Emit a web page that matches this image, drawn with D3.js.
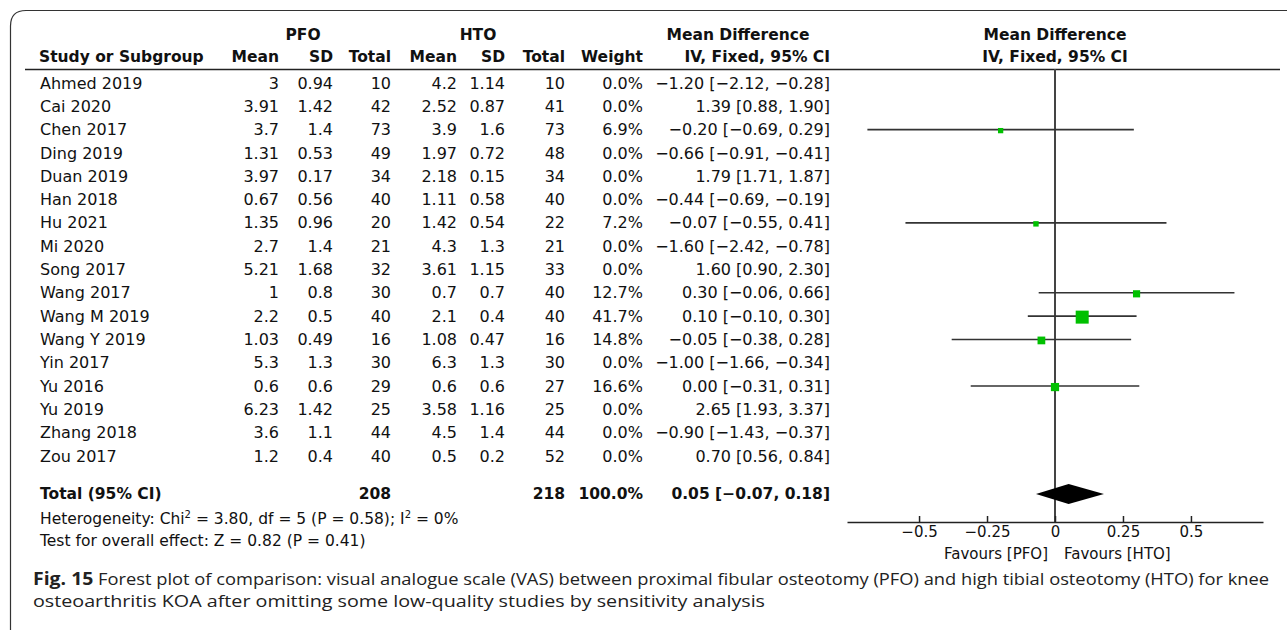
<!DOCTYPE html>
<html>
<head>
<meta charset="utf-8">
<script src="https://cdn.jsdelivr.net/npm/d3@7"></script>
<style>
  body { margin: 0; background: #fff; }
  text { font-family: "DejaVu Sans", sans-serif; fill: #111; }
</style>
</head>
<body>
<script>
var width = 1287,
    height = 630;

var studies = ["Ahmed 2019", "Cai 2020", "Chen 2017", "Ding 2019", "Duan 2019", "Han 2018",
    "Hu 2021", "Mi 2020", "Song 2017", "Wang 2017", "Wang M 2019", "Wang Y 2019",
    "Yin 2017", "Yu 2016", "Yu 2019", "Zhang 2018", "Zou 2017"];
var pfoMean = [3, 3.91, 3.7, 1.31, 3.97, 0.67, 1.35, 2.7, 5.21, 1, 2.2, 1.03, 5.3, 0.6, 6.23, 3.6, 1.2];
var pfoSD = [0.94, 1.42, 1.4, 0.53, 0.17, 0.56, 0.96, 1.4, 1.68, 0.8, 0.5, 0.49, 1.3, 0.6, 1.42, 1.1, 0.4];
var pfoN = [10, 42, 73, 49, 34, 40, 20, 21, 32, 30, 40, 16, 30, 29, 25, 44, 40];
var htoMean = [4.2, 2.52, 3.9, 1.97, 2.18, 1.11, 1.42, 4.3, 3.61, 0.7, 2.1, 1.08, 6.3, 0.6, 3.58, 4.5, 0.5];
var htoSD = [1.14, 0.87, 1.6, 0.72, 0.15, 0.58, 0.54, 1.3, 1.15, 0.7, 0.4, 0.47, 1.3, 0.6, 1.16, 1.4, 0.2];
var htoN = [10, 41, 73, 48, 34, 40, 22, 21, 33, 40, 40, 16, 30, 27, 25, 44, 52];
var weight = [0, 0, 6.9, 0, 0, 0, 7.2, 0, 0, 12.7, 41.7, 14.8, 0, 16.6, 0, 0, 0];
var md = [-1.20, 1.39, -0.20, -0.66, 1.79, -0.44, -0.07, -1.60, 1.60, 0.30, 0.10, -0.05, -1.00, 0.00, 2.65, -0.90, 0.70];
var ciLow = [-2.12, 0.88, -0.69, -0.91, 1.71, -0.69, -0.55, -2.42, 0.90, -0.06, -0.10, -0.38, -1.66, -0.31, 1.93, -1.43, 0.56];
var ciHigh = [-0.28, 1.90, 0.29, -0.41, 1.87, -0.19, 0.41, -0.78, 2.30, 0.66, 0.30, 0.28, -0.34, 0.31, 3.37, -0.37, 0.84];

var totalPfo = 208, totalHto = 218, totalWeight = 100.0;
var totalMd = [0.05, -0.07, 0.18];
var tickValues = [-0.5, -0.25, 0, 0.25, 0.5];
var heterogeneity = {chi: "3.80", df: 5, p: "0.58", i2: "0%"};
var overall = {z: "0.82", p: "0.41"};

var minus = function(s) { return String(s).replace(/-/g, "\u2212"); };
var f2 = d3.format(".2f");
var ci = function(m, l, h) { return minus(f2(m) + " [" + f2(l) + ", " + f2(h) + "]"); };

var svg = d3.select("body").append("svg")
    .attr("width", width)
    .attr("height", height);

svg.append("rect").attr("width", width).attr("height", height).attr("fill", "#fff");

// frame
svg.append("path")
    .attr("d", "M10.5,640 L10.5,26 Q10.5,10.5 26,10.5 L1290,10.5")
    .attr("fill", "none").attr("stroke", "#333").attr("stroke-width", 1.2);

var x = d3.scaleLinear().domain([-0.765, 0.765]).range([847, 1263]);
var y = d3.scalePoint().domain(studies).range([83, 456]);
var size = d3.scaleSqrt().domain([0, 41.7]).range([0, 13]);

var yTotal = 494, yHet = 518, yTest = 540, yAxis = 522;

// columns: right edge x for each numeric column
var cols = [
  {x: 279, head: "Mean", vals: pfoMean},
  {x: 333, head: "SD", vals: pfoSD},
  {x: 391, head: "Total", vals: pfoN},
  {x: 457, head: "Mean", vals: htoMean},
  {x: 505, head: "SD", vals: htoSD},
  {x: 565, head: "Total", vals: htoN},
  {x: 643, head: "Weight", vals: weight.map(function(w) { return w.toFixed(1) + "%"; })},
  {x: 830, head: "IV, Fixed, 95% CI", vals: md.map(function(m, i) { return ci(m, ciLow[i], ciHigh[i]); })}
];

var fsBold = 15.5, fs = 16;
var head = svg.append("g").attr("font-size", fsBold).attr("font-weight", "bold");
head.append("text").attr("x", 303).attr("y", 35).attr("dy", "0.35em").attr("text-anchor", "middle").text("PFO");
head.append("text").attr("x", 478).attr("y", 35).attr("dy", "0.35em").attr("text-anchor", "middle").text("HTO");
head.append("text").attr("x", 738).attr("y", 35).attr("dy", "0.35em").attr("text-anchor", "middle").text("Mean Difference");
head.append("text").attr("x", 1055).attr("y", 35).attr("dy", "0.35em").attr("text-anchor", "middle").text("Mean Difference");
head.append("text").attr("x", 1055).attr("y", 57).attr("dy", "0.35em").attr("text-anchor", "middle").text("IV, Fixed, 95% CI");
head.append("text").attr("x", 39).attr("y", 57).attr("dy", "0.35em").text("Study or Subgroup");
cols.forEach(function(c) {
  head.append("text").attr("x", c.x).attr("y", 57).attr("dy", "0.35em").attr("text-anchor", "end").text(c.head);
});

svg.append("line").attr("x1", 25).attr("x2", 1280).attr("y1", 69.5).attr("y2", 69.5)
    .attr("stroke", "#222").attr("stroke-width", 1.5);

// body rows
var body = svg.append("g").attr("font-size", fs);
body.selectAll("text.study").data(studies).enter().append("text")
    .attr("x", 40).attr("y", function(d) { return y(d); }).attr("dy", "0.35em").text(function(d) { return d; });
cols.forEach(function(c) {
  body.selectAll(null).data(c.vals).enter().append("text")
      .attr("x", c.x).attr("y", function(d, i) { return y(studies[i]); })
      .attr("dy", "0.35em").attr("text-anchor", "end")
      .text(function(d) { return minus(d); });
});

// total row
var tot = svg.append("g").attr("font-size", fsBold).attr("font-weight", "bold");
tot.append("text").attr("x", 40).attr("y", yTotal).attr("dy", "0.35em").text("Total (95% CI)");
tot.append("text").attr("x", 391).attr("y", yTotal).attr("dy", "0.35em").attr("text-anchor", "end").text(totalPfo);
tot.append("text").attr("x", 565).attr("y", yTotal).attr("dy", "0.35em").attr("text-anchor", "end").text(totalHto);
tot.append("text").attr("x", 643).attr("y", yTotal).attr("dy", "0.35em").attr("text-anchor", "end").text(totalWeight.toFixed(1) + "%");
tot.append("text").attr("x", 830).attr("y", yTotal).attr("dy", "0.35em").attr("text-anchor", "end")
    .text(ci(totalMd[0], totalMd[1], totalMd[2]));

// heterogeneity / overall effect
var het = svg.append("text").attr("font-size", 15.5).attr("x", 40).attr("y", yHet + 5.5);
het.append("tspan").text("Heterogeneity: Chi");
het.append("tspan").attr("font-size", 10).attr("dy", -6).text("2");
het.append("tspan").attr("dy", 6).text(" = " + heterogeneity.chi + ", df = " + heterogeneity.df + " (P = " + heterogeneity.p + "); I");
het.append("tspan").attr("font-size", 10).attr("dy", -6).text("2");
het.append("tspan").attr("dy", 6).text(" = " + heterogeneity.i2);
svg.append("text").attr("font-size", 15.5).attr("x", 40).attr("y", yTest + 5.5)
    .text("Test for overall effect: Z = " + overall.z + " (P = " + overall.p + ")");

// forest plot
svg.append("line").attr("x1", x(0)).attr("x2", x(0)).attr("y1", 69).attr("y2", yAxis)
    .attr("stroke", "#444").attr("stroke-width", 2);

var idx = d3.range(studies.length).filter(function(i) { return weight[i] > 0; });
svg.selectAll("line.ci").data(idx).enter().append("line")
    .attr("x1", function(i) { return x(ciLow[i]); })
    .attr("x2", function(i) { return x(ciHigh[i]); })
    .attr("y1", function(i) { return y(studies[i]); })
    .attr("y2", function(i) { return y(studies[i]); })
    .attr("stroke", "#333").attr("stroke-width", 1.6);
svg.selectAll("rect.sq").data(idx).enter().append("rect")
    .attr("x", function(i) { return x(md[i]) - size(weight[i]) / 2; })
    .attr("y", function(i) { return y(studies[i]) + 1 - size(weight[i]) / 2; })
    .attr("width", function(i) { return size(weight[i]); })
    .attr("height", function(i) { return size(weight[i]); })
    .attr("fill", "#00c000");

svg.append("path")
    .attr("d", "M" + x(totalMd[1]) + "," + yTotal + "L" + x(totalMd[0]) + "," + (yTotal - 10) +
        "L" + x(totalMd[2]) + "," + yTotal + "L" + x(totalMd[0]) + "," + (yTotal + 10) + "Z")
    .attr("fill", "#000");

var axis = d3.axisBottom(x).tickValues(tickValues).tickSizeInner(-6).tickSizeOuter(0).tickPadding(4)
    .tickFormat(function(d) { return minus(d3.format("")(d)); });
var gAxis = svg.append("g").attr("transform", "translate(0," + yAxis + ")").call(axis);
gAxis.select(".domain").attr("stroke", "#222").attr("stroke-width", 1.5);
gAxis.selectAll(".tick line").attr("stroke", "#222").attr("stroke-width", 1.5);
gAxis.selectAll(".tick text").attr("font-size", 15).attr("font-family", "DejaVu Sans").attr("fill", "#111");

svg.append("text").attr("font-size", 15).attr("x", x(0) - 7).attr("y", 554).attr("dy", "0.35em")
    .attr("text-anchor", "end").text("Favours [PFO]");
svg.append("text").attr("font-size", 15).attr("x", x(0) + 9).attr("y", 554).attr("dy", "0.35em")
    .text("Favours [HTO]");

// caption
var cap1 = svg.append("text").attr("x", 33).attr("y", 579).attr("dy", "0.35em")
    .style("font-family", "'Open Sans', sans-serif").attr("font-size", 16).style("fill", "#222")
    .attr("textLength", 1236).attr("lengthAdjust", "spacingAndGlyphs");
cap1.append("tspan").attr("font-weight", "bold").attr("font-size", 17).text("Fig. 15");
cap1.append("tspan").text("  Forest plot of comparison: visual analogue scale (VAS) between proximal fibular osteotomy (PFO) and high tibial osteotomy (HTO) for knee");
svg.append("text").attr("x", 33).attr("y", 601).attr("dy", "0.35em")
    .style("font-family", "'Open Sans', sans-serif").attr("font-size", 16).style("fill", "#222")
    .attr("textLength", 732).attr("lengthAdjust", "spacingAndGlyphs")
    .text("osteoarthritis KOA after omitting some low-quality studies by sensitivity analysis");
</script>
</body>
</html>
